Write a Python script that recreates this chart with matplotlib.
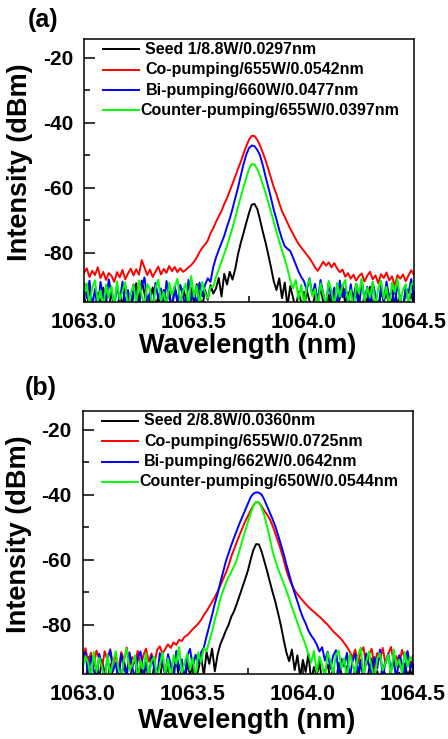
import numpy as np
import matplotlib
matplotlib.use("Agg")
import matplotlib.pyplot as plt
from matplotlib.ticker import MultipleLocator, FormatStrFormatter

# wavelength grid of the OSA traces (nm), 0.0125 nm step
wl = np.round(np.arange(1063.0, 1064.50001, 0.0125), 4)

# ---- panel (a), dBm ----
seed_a = [-93.5, -97.0, -91.2, -95.8, -98.0, -92.4, -96.1, -90.8, -94.7, -97.5,
          -91.9, -95.3, -98.0, -92.7, -96.6, -90.2, -94.0, -97.8, -93.1, -89.4,
          -95.9, -88.6, -92.5, -97.2, -94.3, -90.7, -96.8, -93.6, -98.0, -91.5,
          -95.1, -92.0, -97.4, -90.4, -94.8, -96.5, -91.1, -93.9, -97.9, -90.9,
          -95.6, -89.7, -93.2, -97.0, -91.4, -94.5, -90.0, -92.6, -91.0, -87.8,
          -93.5, -86.5, -89.8, -85.9, -88.3, -85.0, -80.5, -77.0, -74.0, -70.8,
          -67.8, -65.2, -65.0, -66.5, -69.8, -73.5, -76.8, -80.6, -84.5, -88.8,
          -91.5, -87.9, -94.0, -89.2, -96.5, -90.3, -93.8, -97.5, -92.0, -95.4,
          -98.0, -91.6, -94.9, -97.1, -92.8, -96.0, -90.6, -95.2, -98.0, -93.0,
          -96.3, -91.3, -97.6, -94.1, -90.1, -95.7, -92.2, -97.3, -93.7, -89.6,
          -94.4, -97.8, -92.9, -95.5, -90.5, -96.9, -93.4, -98.0, -91.8, -95.0,
          -92.3, -97.0, -94.6, -90.9, -96.2, -93.3, -97.7, -91.0, -95.3, -92.7, -96.4]
co_a = [-86.2, -84.8, -87.5, -85.6, -86.9, -84.5, -87.8, -85.9, -88.4, -86.3,
        -87.1, -89.0, -86.0, -87.6, -85.3, -88.2, -86.4, -84.9, -87.0, -85.1,
        -86.8, -82.3, -84.6, -86.9, -85.2, -87.5, -85.8, -84.3, -86.7, -85.0,
        -86.2, -84.1, -85.7, -84.4, -86.0, -84.8, -85.9, -85.3, -84.5, -83.8,
        -82.8, -81.5, -79.8, -78.5, -77.5, -76.3, -74.0, -72.5, -70.5, -68.8,
        -67.2, -65.0, -63.2, -61.0, -58.8, -56.5, -54.2, -52.0, -49.5, -47.2,
        -45.2, -44.0, -44.1, -45.2, -47.0, -49.2, -51.5, -54.2, -57.0, -59.8,
        -62.0, -64.8, -67.2, -69.0, -70.8, -72.6, -74.2, -75.8, -77.3, -78.4,
        -79.5, -80.6, -81.7, -83.0, -84.5, -85.6, -84.2, -82.8, -84.0, -83.0,
        -84.5, -83.2, -84.8, -86.0, -85.2, -87.4, -86.3, -88.0, -86.8, -88.6,
        -87.2, -86.4, -88.9, -87.1, -85.9, -88.2, -87.0, -89.4, -86.6, -87.8,
        -86.1, -88.5, -87.3, -90.2, -86.9, -88.0, -86.7, -88.8, -87.0, -85.4, -86.8]
bi_a = [-89.5, -94.0, -88.6, -96.5, -91.2, -97.8, -89.0, -93.5, -95.9, -88.2,
        -92.7, -97.0, -90.1, -94.8, -88.9, -96.2, -91.5, -98.0, -89.8, -93.1,
        -96.8, -90.4, -87.6, -95.0, -92.2, -97.5, -89.3, -94.1, -91.0, -96.9,
        -88.7, -93.8, -97.2, -90.6, -95.4, -89.9, -92.9, -97.6, -88.4, -94.6,
        -91.8, -96.1, -89.2, -93.4, -90.0, -87.9, -89.0, -84.4, -81.5, -79.2,
        -77.0, -74.8, -72.0, -69.5, -66.5, -63.2, -60.0, -56.3, -52.8, -49.8,
        -47.8, -47.0, -47.2, -48.3, -50.0, -53.0, -56.5, -59.8, -63.2, -66.8,
        -69.8, -73.0, -75.8, -78.0, -78.8, -79.5, -81.5, -83.6, -85.8, -87.5,
        -88.8, -91.5, -87.9, -93.0, -89.6, -95.2, -88.4, -92.6, -96.0, -89.3,
        -94.2, -90.8, -97.1, -88.6, -93.7, -91.1, -96.4, -89.7, -95.5, -92.0,
        -97.3, -88.3, -94.5, -90.5, -96.7, -89.1, -93.2, -97.9, -90.2, -95.0,
        -88.9, -93.9, -91.4, -96.3, -89.4, -94.7, -97.4, -90.7, -92.4, -88.1, -95.6]
counter_a = [-92.8, -89.4, -96.3, -90.7, -88.5, -95.1, -91.6, -97.2, -89.8, -93.9,
             -90.3, -96.8, -88.8, -94.4, -91.9, -89.1, -97.5, -92.5, -90.0, -95.7,
             -88.6, -93.3, -96.0, -89.6, -91.3, -97.9, -90.9, -88.3, -94.9, -92.1,
             -96.6, -89.2, -93.0, -90.4, -88.0, -95.3, -91.7, -89.5, -97.0, -87.2,
             -93.6, -90.2, -96.2, -89.0, -92.3, -94.1, -90.6, -90.5, -87.5, -85.2,
             -82.8, -80.3, -78.0, -75.2, -72.3, -69.2, -66.0, -62.8, -59.8, -57.0,
             -54.2, -52.7, -52.8, -54.3, -56.3, -59.0, -61.5, -64.5, -67.5, -70.5,
             -73.5, -76.5, -79.3, -82.0, -85.0, -88.5, -91.0, -88.4, -94.3, -89.9,
             -96.5, -90.6, -88.2, -93.4, -91.2, -97.3, -89.4, -92.9, -95.8, -88.7,
             -91.8, -96.9, -89.3, -93.6, -90.1, -88.4, -95.6, -91.5, -97.7, -89.6,
             -92.6, -88.0, -95.0, -90.8, -93.8, -89.0, -96.7, -91.0, -88.6, -94.2,
             -90.5, -97.1, -89.2, -92.2, -88.1, -95.4, -91.3, -89.7, -96.0, -90.0, -88.8]

# ---- panel (b), dBm ----
seed_b = [-94.2, -97.6, -91.8, -95.4, -98.0, -92.6, -96.3, -90.9, -94.8, -97.1,
          -92.1, -95.9, -98.0, -93.0, -96.7, -91.3, -94.4, -97.9, -92.9, -90.5,
          -96.0, -93.4, -97.3, -91.6, -95.1, -98.0, -92.3, -94.9, -97.0, -91.0,
          -95.7, -92.8, -97.7, -93.6, -90.8, -96.4, -94.0, -98.0, -91.9, -95.3,
          -92.5, -97.4, -93.8, -89.5, -95.6, -88.4, -92.0, -87.3, -94.3, -89.2,
          -86.0, -84.0, -81.8, -80.0, -77.5, -75.8, -73.5, -71.0, -68.5, -66.0,
          -63.4, -60.0, -57.0, -55.2, -55.3, -57.5, -60.5, -63.5, -66.8, -70.0,
          -73.0, -76.5, -80.2, -84.5, -88.5, -91.2, -87.6, -93.9, -89.4, -96.0,
          -90.8, -94.5, -88.9, -97.2, -93.0, -95.8, -91.4, -97.6, -94.1, -92.2,
          -96.8, -93.5, -98.0, -91.7, -95.0, -97.3, -92.7, -94.6, -98.0, -93.1,
          -96.5, -91.9, -95.4, -97.8, -93.9, -90.4, -96.1, -94.2, -97.5, -92.4,
          -95.9, -98.0, -93.3, -91.5, -96.6, -94.7, -97.2, -92.0, -95.6, -93.8, -96.9]
co_b = [-89.8, -87.2, -91.5, -88.6, -92.9, -87.9, -90.4, -93.3, -88.1, -91.0,
        -87.5, -92.2, -89.3, -93.8, -88.4, -90.9, -87.0, -92.6, -89.9, -91.7,
        -88.0, -93.1, -89.5, -87.3, -91.3, -88.8, -92.4, -87.8, -86.6, -88.9,
        -87.4, -86.0, -87.1, -85.4, -86.2, -84.6, -85.0, -83.7, -83.2, -82.3,
        -81.3, -80.5, -79.6, -78.5, -77.0, -75.8, -74.4, -73.0, -71.5, -69.8,
        -68.0, -66.0, -64.0, -61.8, -59.0, -56.8, -54.5, -52.4, -50.3, -48.3,
        -46.6, -44.9, -43.3, -42.3, -42.4, -43.6, -45.0, -46.2, -47.6, -49.6,
        -52.0, -54.5, -57.0, -60.0, -63.3, -65.8, -67.8, -69.4, -70.6, -71.6,
        -72.6, -73.6, -74.5, -75.3, -76.0, -76.8, -77.5, -78.3, -79.2, -80.0,
        -81.0, -82.0, -82.8, -83.6, -84.5, -85.6, -86.8, -88.2, -90.1, -87.6,
        -91.8, -88.3, -86.9, -92.5, -89.0, -87.4, -93.2, -88.7, -90.6, -87.1,
        -92.0, -88.9, -86.8, -91.4, -89.6, -93.0, -87.7, -90.3, -88.2, -92.7, -89.4]
bi_b = [-91.0, -88.4, -95.6, -89.7, -93.9, -97.2, -88.9, -92.4, -96.0, -90.2,
        -87.8, -94.3, -91.6, -97.5, -89.1, -93.0, -95.9, -88.5, -92.9, -96.6,
        -90.0, -88.2, -94.6, -91.9, -97.0, -89.4, -93.5, -96.3, -88.7, -91.3,
        -95.2, -89.0, -92.1, -97.7, -88.0, -94.0, -90.6, -96.9, -89.5, -87.4,
        -93.1, -89.2, -91.7, -88.5, -87.0, -83.5, -80.3, -77.0, -73.5, -70.5,
        -67.0, -63.8, -60.5, -58.0, -55.5, -53.2, -51.0, -48.8, -46.8, -44.8,
        -42.8, -40.8, -39.7, -39.3, -39.4, -40.0, -41.6, -43.6, -45.6, -47.6,
        -49.8, -52.5, -55.3, -58.2, -61.5, -64.5, -67.5, -70.3, -72.8, -75.5,
        -77.8, -79.6, -81.8, -83.3, -84.5, -86.0, -88.2, -86.9, -91.0, -88.3,
        -93.6, -89.5, -87.8, -95.1, -90.4, -92.8, -88.6, -96.4, -91.2, -89.0,
        -94.8, -90.7, -97.3, -88.8, -92.5, -95.7, -89.9, -93.4, -87.6, -96.1,
        -91.5, -88.9, -94.2, -90.3, -97.0, -89.3, -92.0, -95.4, -88.1, -93.7, -90.8]
counter_b = [-93.4, -89.6, -91.8, -96.7, -88.3, -94.5, -90.1, -92.7, -97.4, -89.0,
             -95.5, -91.4, -88.1, -93.7, -96.2, -90.6, -87.4, -94.1, -92.3, -89.4,
             -97.1, -90.9, -93.6, -88.7, -95.8, -91.1, -89.8, -96.4, -92.6, -88.5,
             -94.9, -90.3, -97.6, -89.3, -92.0, -86.8, -95.0, -91.7, -88.9, -93.9,
             -90.0, -96.5, -88.4, -91.5, -87.2, -88.0, -85.0, -82.0, -78.5, -75.5,
             -72.0, -69.5, -67.2, -65.3, -63.8, -62.0, -60.0, -57.0, -54.0, -51.2,
             -48.5, -45.8, -43.5, -42.2, -42.4, -44.0, -46.5, -49.8, -53.5, -57.5,
             -60.3, -62.8, -65.0, -67.2, -69.5, -72.0, -74.5, -77.0, -79.3, -81.8,
             -84.0, -86.2, -89.0, -91.6, -88.0, -94.6, -89.8, -92.4, -96.3, -88.6,
             -91.0, -95.2, -89.1, -87.9, -93.5, -90.2, -96.8, -88.9, -92.1, -94.7,
             -89.5, -87.0, -95.3, -91.3, -88.2, -93.2, -97.0, -90.4, -88.8, -94.0,
             -91.7, -89.2, -96.0, -87.6, -92.8, -90.7, -95.1, -88.4, -93.0, -89.9, -91.2]

labels_a = ["Seed 1/8.8W/0.0297nm", "Co-pumping/655W/0.0542nm",
            "Bi-pumping/660W/0.0477nm", "Counter-pumping/655W/0.0397nm"]
labels_b = ["Seed 2/8.8W/0.0360nm", "Co-pumping/655W/0.0725nm",
            "Bi-pumping/662W/0.0642nm", "Counter-pumping/650W/0.0544nm"]
colors = ["black", "#ff0000", "#0000ff", "#00ff00"]

plt.rcParams['font.family'] = ['Liberation Sans', 'DejaVu Sans']
plt.rcParams['font.weight'] = 'bold'
plt.rcParams['axes.unicode_minus'] = False

fig = plt.figure(figsize=(4.48, 7.39), dpi=100)
ax_a = fig.add_axes([0.1875, 0.5913, 0.7366, 0.3559])
ax_b = fig.add_axes([0.1846, 0.0876, 0.7373, 0.3567])


def draw(ax, traces, labels, xlab_y):
    for y, c in zip(traces, colors):
        ax.plot(wl, y, color=c, lw=1.4)
    ax.set_xlim(1063.0, 1064.5)
    ax.set_ylim(-95.2, -14.2)
    ax.xaxis.set_major_locator(MultipleLocator(0.5))
    ax.xaxis.set_minor_locator(MultipleLocator(0.25))
    ax.xaxis.set_major_formatter(FormatStrFormatter('%.1f'))
    ax.yaxis.set_major_locator(MultipleLocator(20))
    ax.yaxis.set_minor_locator(MultipleLocator(10))
    ax.tick_params(which='both', direction='in', top=False, right=False, width=1.1)
    ax.tick_params(which='major', length=8)
    ax.tick_params(which='minor', length=4)
    ax.tick_params(axis='x', labelsize=15.5, pad=7)
    ax.tick_params(axis='y', labelsize=15, pad=8)
    for s in ax.spines.values():
        s.set_linewidth(1.1)
    ax.set_xlabel('Wavelength (nm)', fontsize=19.5, fontweight='bold')
    ax.set_ylabel('Intensity (dBm)', fontsize=19.5, fontweight='bold')
    ax.xaxis.set_label_coords(0.497, xlab_y)
    ax.yaxis.set_label_coords(-0.155, 0.53)
    # legend drawn by hand so the labels sit like in the original
    rows = [0.961, 0.884, 0.806, 0.730]
    text_x = [0.186, 0.186, 0.186, 0.171]
    for c, lab, r, tx in zip(colors, labels, rows, text_x):
        ax.plot([0.058, 0.167], [r, r], color=c, lw=1.4, transform=ax.transAxes)
        ax.text(tx, r, lab, transform=ax.transAxes, fontsize=11.5,
                fontweight='bold', va='center', ha='left')


draw(ax_a, [seed_a, co_a, bi_a, counter_a], labels_a, -0.118)
draw(ax_b, [seed_b, co_b, bi_b, counter_b], labels_b, -0.128)

fig.text(0.0625, 0.973, '(a)', fontsize=18, fontweight='bold', va='center', ha='left')
fig.text(0.056, 0.475, '(b)', fontsize=18, fontweight='bold', va='center', ha='left')

fig.savefig('out.png', dpi=100)
